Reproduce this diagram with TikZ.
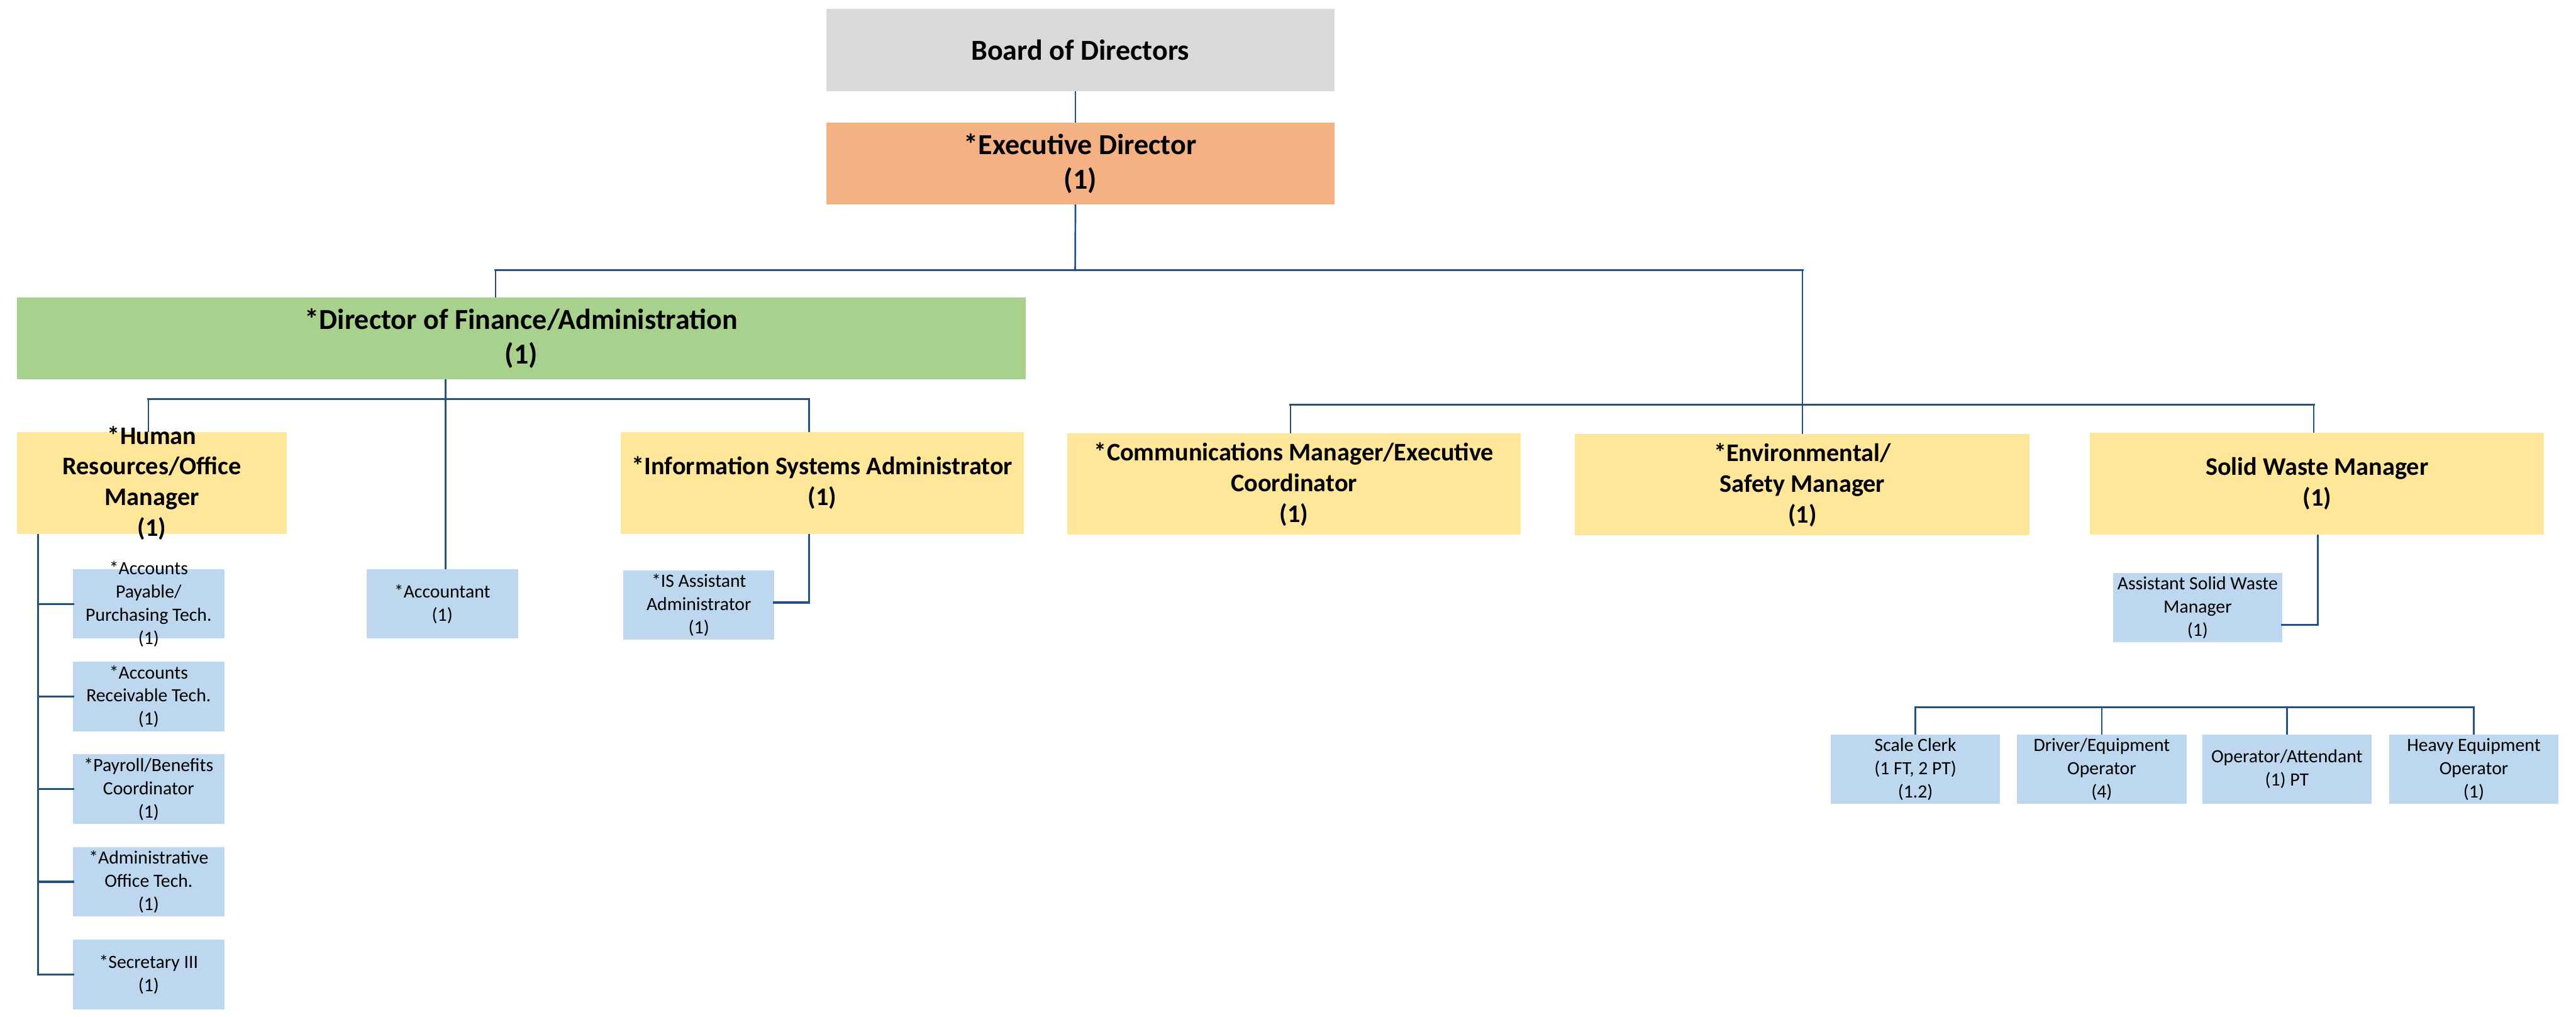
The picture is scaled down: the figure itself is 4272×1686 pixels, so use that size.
\documentclass[tikz,border=0pt]{standalone}
\usepackage{fontspec}
\setmainfont{Carlito}
\definecolor{bgray}{RGB}{217,217,217}
\definecolor{borange}{RGB}{244,177,131}
\definecolor{bgreen}{RGB}{169,209,142}
\definecolor{byellow}{RGB}{255,230,153}
\definecolor{bblue}{RGB}{189,215,238}
\definecolor{conn}{RGB}{36,80,130}
\begin{document}
\begin{tikzpicture}[x=1pt,y=-1pt,
  box/.style={rectangle,inner sep=0pt,outer sep=0pt},
  bigtxt/.style={font=\fontsize{48}{58}\selectfont\bfseries,align=center,inner sep=0pt},
  midtxt/.style={font=\fontsize{42}{51}\selectfont\bfseries,align=center,inner sep=0pt},
  smalltxt/.style={font=\fontsize{31}{38.5}\selectfont,align=center,inner sep=0pt},
  topbox/.style={box,minimum width=843pt,minimum height=136pt},
  yellowbox/.style={box,fill=byellow,minimum height=168pt},
  bluebox/.style={box,fill=bblue,minimum height=115pt},
  link/.style={draw=conn,line width=2.8pt},
  bar/.style={draw=conn,line width=3.6pt,line cap=rect},
]
\useasboundingbox (0,0) rectangle (4272,1686);

% top
\node[topbox,fill=bgray,label={[bigtxt]center:Board of Directors}] (board) at (1791.5,83) {};
\node[topbox,fill=borange,label={[bigtxt]center:{*Executive Director\\(1)}}] (exec) at (1791.5,271) {};
\node[box,fill=bgreen,minimum width=1673pt,minimum height=136pt,label={[bigtxt]center:{*Director of Finance/Administration\\(1)}}] (dof) at (864.5,561) {};

% managers
\node[yellowbox,minimum width=448pt,label={[midtxt]center:{*Human\\Resources/Office\\Manager\\(1)}}] (hr) at (252,801) {};
\node[yellowbox,minimum width=669pt,label={[midtxt]center:{*Information Systems Administrator\\(1)}}] (is) at (1363.5,801) {};
\node[yellowbox,minimum width=752pt,label={[midtxt]center:{*Communications Manager/Executive\\Coordinator\\(1)}}] (comm) at (2146,803) {};
\node[yellowbox,minimum width=754pt,label={[midtxt]center:{*Environmental/\\Safety Manager\\(1)}}] (env) at (2989,804) {};
\node[yellowbox,minimum width=753pt,label={[midtxt]center:{Solid Waste Manager\\(1)}}] (solid) at (3842.5,802) {};

% blue boxes
\node[bluebox,minimum width=251pt,label={[smalltxt]center:{*Accountant\\(1)}}] (acct) at (733.5,1001.5) {};
\node[bluebox,minimum width=250pt,label={[smalltxt]center:{*IS Assistant\\Administrator\\(1)}}] (isa) at (1159,1003.5) {};
\node[bluebox,minimum width=251pt,label={[smalltxt]center:{*Accounts\\Payable/\\Purchasing Tech.\\(1)}}] (ap) at (246.5,1001.5) {};
\node[bluebox,minimum width=251pt,label={[smalltxt]center:{*Accounts\\Receivable Tech.\\(1)}}] (ar) at (246.5,1155) {};
\node[bluebox,minimum width=251pt,label={[smalltxt]center:{*Payroll/Benefits\\Coordinator\\(1)}}] (pay) at (246.5,1308.5) {};
\node[bluebox,minimum width=251pt,label={[smalltxt]center:{*Administrative\\Office Tech.\\(1)}}] (adm) at (246.5,1462) {};
\node[bluebox,minimum width=251pt,label={[smalltxt]center:{*Secretary III\\(1)}}] (sec) at (246.5,1616) {};
\node[bluebox,minimum width=281pt,label={[smalltxt]center:{Assistant Solid Waste\\Manager\\(1)}}] (aswm) at (3644.5,1007.5) {};
\node[bluebox,minimum width=281pt,label={[smalltxt]center:{Scale Clerk\\(1 FT, 2 PT)\\(1.2)}}] (sc) at (3176.5,1275.5) {};
\node[bluebox,minimum width=281pt,label={[smalltxt]center:{Driver/Equipment\\Operator\\(4)}}] (drv) at (3485.5,1275.5) {};
\node[bluebox,minimum width=281pt,label={[smalltxt]center:{Operator/Attendant\\(1) PT}}] (opa) at (3792.5,1275.5) {};
\node[bluebox,minimum width=281pt,label={[smalltxt]center:{Heavy Equipment\\Operator\\(1)}}] (hv) at (4102.5,1275.5) {};

% junction coordinates
\coordinate (j1) at (1783,448);
\coordinate (b1l) at (822,448);
\coordinate (b1r) at (2989,448);
\coordinate (b2l) at (2140,671);
\coordinate (b2r) at (3837,671);
\coordinate (b4l) at (246,662);
\coordinate (b4r) at (1342,662);
\coordinate (isk) at (1342,999);
\coordinate (hrs) at (63,886);
\coordinate (sk) at (3844,1036);
\coordinate (b5) at (0,1173);

% connectors
\draw[link] ([xshift=-8pt]board.south) -- ([xshift=-8pt]exec.north);
\draw[link] ([xshift=-8pt]exec.south) -- (j1);
\draw[bar] (b1l) -- (b1r);
\draw[link] (b1l) -- (b1l |- dof.north);
\draw[link] (b1r) -- (env.north);
\draw[bar] (b2l) -- (b2r);
\draw[link] (b2l) -- (b2l |- comm.north);
\draw[link] (b2r) -- (b2r |- solid.north);

\draw[link] ([xshift=5.5pt]acct.north |- dof.south) -- ([xshift=5.5pt]acct.north);
\draw[bar] (b4l) -- (b4r);
\draw[link] (b4l) -- (b4l |- hr.north);
\draw[link] (b4r) -- (b4r |- is.north);
\draw[link] (isk |- is.south) -- (isk);
\draw[bar] (isk) -- (isk -| isa.east);

\draw[link] (hrs |- hr.south) -- (hrs |- sec.west);
\foreach \n in {ap,ar,pay,adm,sec} \draw[bar] (hrs |- \n.west) -- (\n.west);

\draw[link] (sk |- solid.south) -- (sk);
\draw[bar] (sk) -- (sk -| aswm.east);

\draw[bar] (sc.north |- b5) -- (hv.north |- b5);
\foreach \n in {sc,drv,opa,hv} \draw[link] (\n.north |- b5) -- (\n.north);
\end{tikzpicture}
\end{document}
